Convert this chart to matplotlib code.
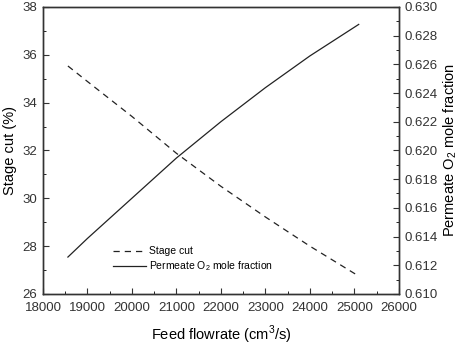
import matplotlib
matplotlib.use('Agg')
import matplotlib.pyplot as plt
from matplotlib.ticker import MultipleLocator

plt.rcParams['font.family'] = ['Liberation Sans', 'DejaVu Sans']
plt.rcParams['mathtext.fontset'] = 'custom'
plt.rcParams['mathtext.rm'] = 'Liberation Sans'

# datos
flujo = [18560, 19000, 20000, 21000, 22000, 23000, 24000, 25000, 25100]
stage_cut = [35.53, 34.88, 33.42, 31.88, 30.50, 29.22, 28.00, 26.86, 26.75]
frac_o2 = [0.61257, 0.61387, 0.61667, 0.61947, 0.62200, 0.62437, 0.62658, 0.62858, 0.62878]

fig = plt.figure(figsize=(4.59, 3.45), dpi=100)
ax = fig.add_axes([0.0937, 0.148, 0.775, 0.832])
ax2 = ax.twinx()

l1, = ax.plot(flujo, stage_cut, color='#222222', lw=0.9, linestyle=(0, (5, 4)), label='Stage cut')
l2, = ax2.plot(flujo, frac_o2, color='#222222', lw=0.9, label='Permeate O$_2$ mole fraction')

ax.set_xlim(18000, 26000)
ax.set_ylim(26, 38)
ax2.set_ylim(0.610, 0.630)

ax.xaxis.set_major_locator(MultipleLocator(1000))
ax.xaxis.set_minor_locator(MultipleLocator(500))
ax.yaxis.set_major_locator(MultipleLocator(2))
ax.yaxis.set_minor_locator(MultipleLocator(1))
ax2.yaxis.set_major_locator(MultipleLocator(0.002))
ax2.yaxis.set_minor_locator(MultipleLocator(0.001))
ax2.yaxis.set_major_formatter(plt.FuncFormatter(lambda v, _: f'{v:.3f}'))

for a in (ax, ax2):
    a.tick_params(which='major', direction='in', length=4, width=0.8, labelsize=9.5,
                  colors='#333333', pad=4)
    a.tick_params(which='minor', direction='in', length=2, width=0.6)
    for s in a.spines.values():
        s.set_linewidth(1.0)
        s.set_color('#333333')
ax.tick_params(axis='x', pad=6)

ax.set_xlabel('Feed flowrate (cm$^3$/s)', fontsize=10.5, labelpad=7)
ax.set_ylabel('Stage cut (%)', fontsize=10.5, labelpad=4)
ax2.set_ylabel('Permeate O$_2$ mole fraction', fontsize=10.5, labelpad=3)

ax.legend(handles=[l1, l2], loc='lower left', bbox_to_anchor=(0.17, 0.04), frameon=False,
          fontsize=7.5, handlelength=3.2, handletextpad=0.3, labelspacing=0.3)

fig.savefig('out.png', dpi=100)
